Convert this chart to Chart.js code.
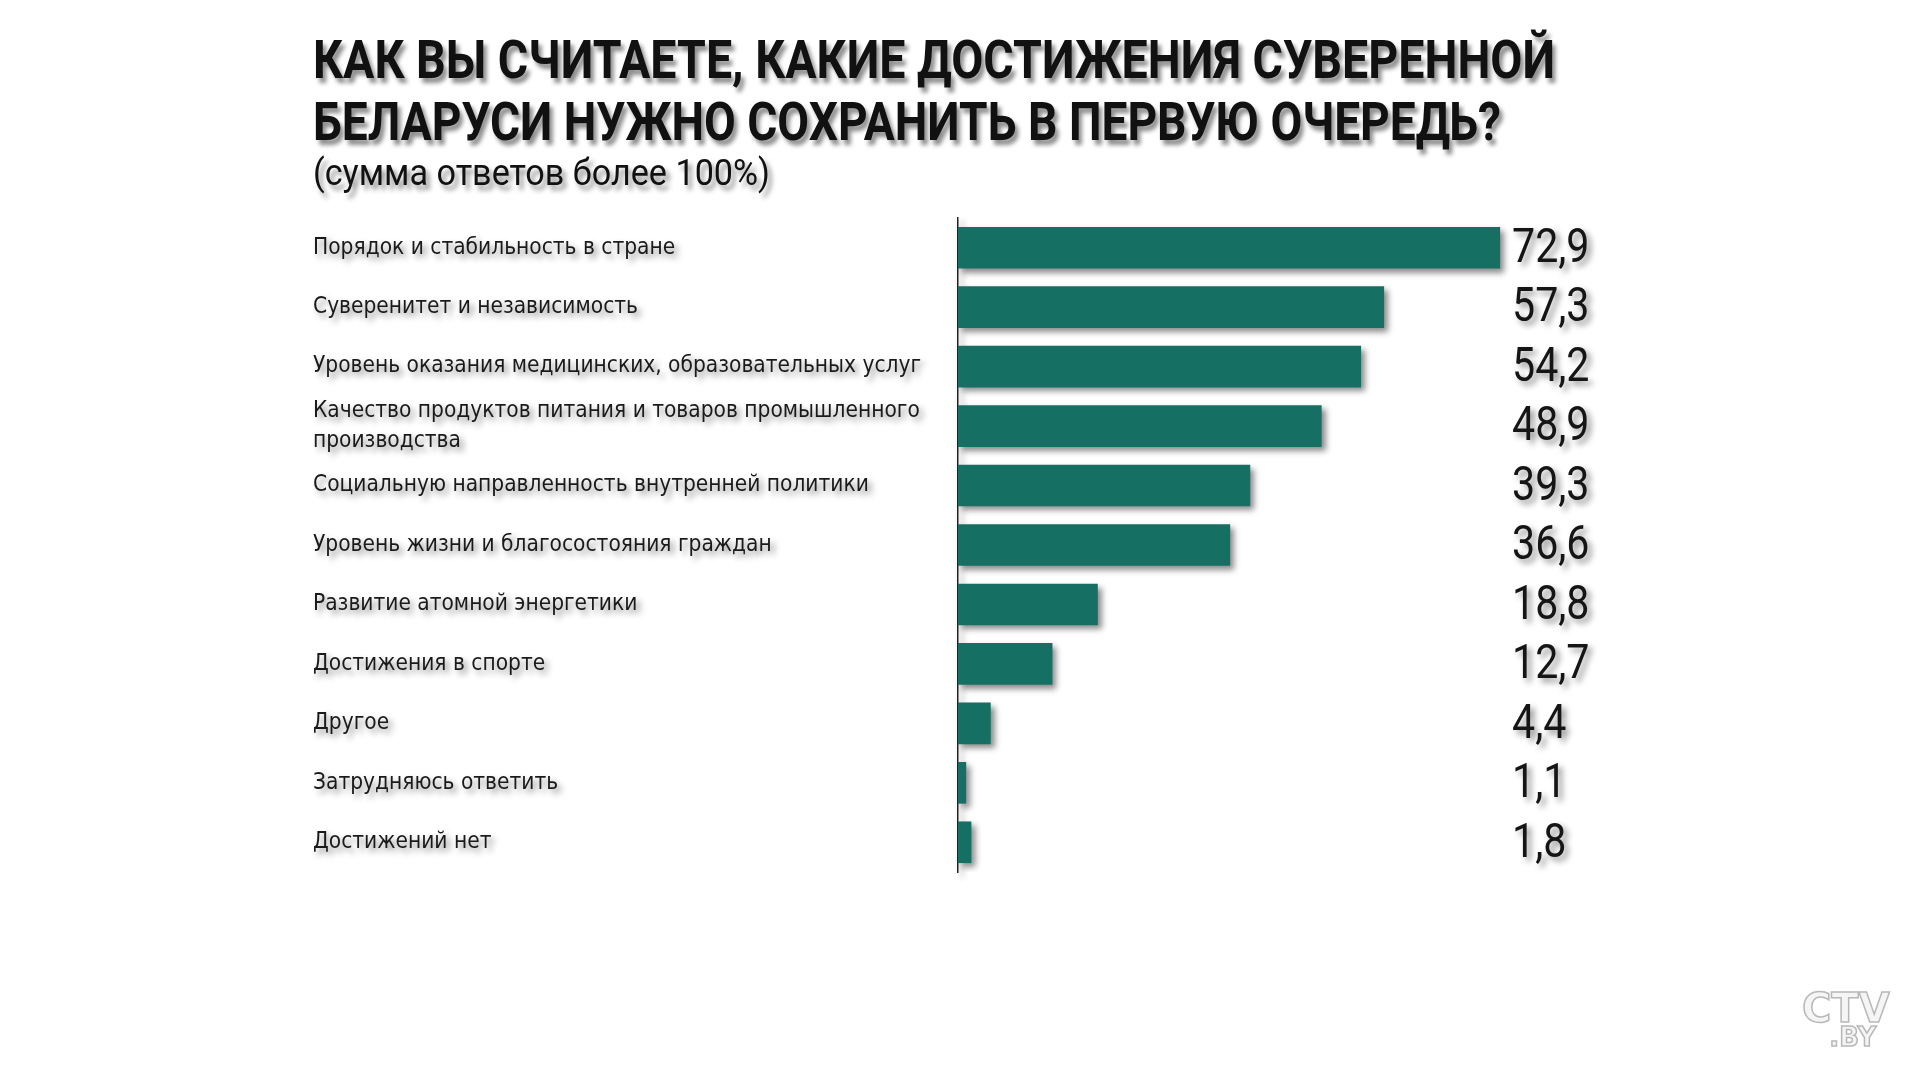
<!DOCTYPE html>
<html>
<head>
<meta charset="utf-8">
<script src="https://cdn.jsdelivr.net/npm/chart.js@4.4.1/dist/chart.umd.min.js"></script>
<style>
  body { margin: 0; background: #fff; overflow: hidden; }
  #wrap { position: relative; width: 1910px; height: 1074px; }
  .hdr {
    position: absolute; left: 313px; white-space: nowrap; color: #111;
    font-family: 'Roboto', 'DejaVu Sans Condensed', sans-serif;
    text-shadow: 4px 5px 5px rgba(0,0,0,0.45);
    transform-origin: 0 0;
  }
  #t1, #t2 { font-size: 54px; font-weight: bold; line-height: 54px; }
  #t1 { top: 33px; }
  #t2 { top: 95px; }
  #sub { top: 155px; font-size: 36px; line-height: 36px; }
  #logo {
    position: absolute; left: 1802px; top: 990px; color: #f5f5f5; text-align: center;
    font-family: 'DejaVu Sans', sans-serif; font-weight: bold; line-height: 0.9;
    -webkit-text-stroke: 1.5px #b8b8b8;
  }
  #logo .a { font-size: 40px; }
  #logo .b { font-size: 26px; padding-left: 14px; }
</style>
</head>
<body>
<div id="wrap">
  <canvas id="pollChart"></canvas>
  <div class="hdr" id="t1" data-w="1242">КАК ВЫ СЧИТАЕТЕ, КАКИЕ ДОСТИЖЕНИЯ СУВЕРЕННОЙ</div>
  <div class="hdr" id="t2" data-w="1188">БЕЛАРУСИ НУЖНО СОХРАНИТЬ В ПЕРВУЮ ОЧЕРЕДЬ?</div>
  <div class="hdr" id="sub" data-w="457">(сумма ответов более 100%)</div>
  <div id="logo"><div class="a">CTV</div><div class="b">.BY</div></div>
</div>
<script>
// poll answers, percent
const categories = [
  'Порядок и стабильность в стране',
  'Суверенитет и независимость',
  'Уровень оказания медицинских, образовательных услуг',
  ['Качество продуктов питания и товаров промышленного', 'производства'],
  'Социальную направленность внутренней политики',
  'Уровень жизни и благосостояния граждан',
  'Развитие атомной энергетики',
  'Достижения в спорте',
  'Другое',
  'Затрудняюсь ответить',
  'Достижений нет'
];
const shares = [72.9, 57.3, 54.2, 48.9, 39.3, 36.6, 18.8, 12.7, 4.4, 1.1, 1.8];
const shareLabels = ['72,9', '57,3', '54,2', '48,9', '39,3', '36,6', '18,8', '12,7', '4,4', '1,1', '1,8'];

// squeeze the headings to the condensed width of the original
document.querySelectorAll('.hdr').forEach(el => {
  const w = el.getBoundingClientRect().width;
  el.style.transform = 'scaleX(' + (el.dataset.w / w) + ')';
});

// soft drop shadow on everything drawn in the canvas
const shadowPlugin = {
  id: 'shadow',
  beforeDraw(chart) {
    const ctx = chart.ctx;
    ctx.shadowColor = 'rgba(0,0,0,0.45)';
    ctx.shadowBlur = 6;
    ctx.shadowOffsetX = 4;
    ctx.shadowOffsetY = 4;
  },
  afterDraw(chart) {
    const ctx = chart.ctx;
    ctx.shadowColor = 'rgba(0,0,0,0)';
    ctx.shadowBlur = 0;
    ctx.shadowOffsetX = 0;
    ctx.shadowOffsetY = 0;
  }
};

// value column on the right of the bars (condensed digits)
const valuePlugin = {
  id: 'values',
  afterDatasetsDraw(chart) {
    const ctx = chart.ctx;
    const meta = chart.getDatasetMeta(0);
    meta.data.forEach((bar, i) => {
      ctx.save();
      ctx.translate(chart.chartArea.right - 3, bar.y + 2);
      ctx.scale(0.84, 1);
      ctx.font = "49px 'Roboto', sans-serif";
      ctx.fillStyle = '#151515';
      ctx.textAlign = 'left';
      ctx.textBaseline = 'middle';
      ctx.fillText(shareLabels[i], 0, 0);
      ctx.restore();
    });
  }
};

new Chart(document.getElementById('pollChart'), {
  type: 'bar',
  data: {
    labels: categories,
    datasets: [{
      data: shares,
      backgroundColor: '#166f63',
      borderWidth: 0,
      barPercentage: 0.7,
      categoryPercentage: 1.0
    }]
  },
  options: {
    indexAxis: 'y',
    responsive: true,
    maintainAspectRatio: false,
    animation: false,
    layout: { padding: { left: 313, right: 395, top: 218, bottom: 202 } },
    scales: {
      x: { display: false, min: 0, max: 74.9 },
      y: {
        grid: { display: false },
        border: { display: true, color: '#222', width: 1.5 },
        ticks: {
          autoSkip: false,
          crossAlign: 'far',
          color: '#1a1a1a',
          font: { family: "'DejaVu Sans Condensed', 'Roboto', sans-serif", size: 22.5, lineHeight: 1.35 }
        },
        afterFit(scale) { scale.width = 645; }
      }
    },
    plugins: {
      legend: { display: false },
      tooltip: { enabled: false }
    }
  },
  plugins: [shadowPlugin, valuePlugin]
});
</script>
</body>
</html>
